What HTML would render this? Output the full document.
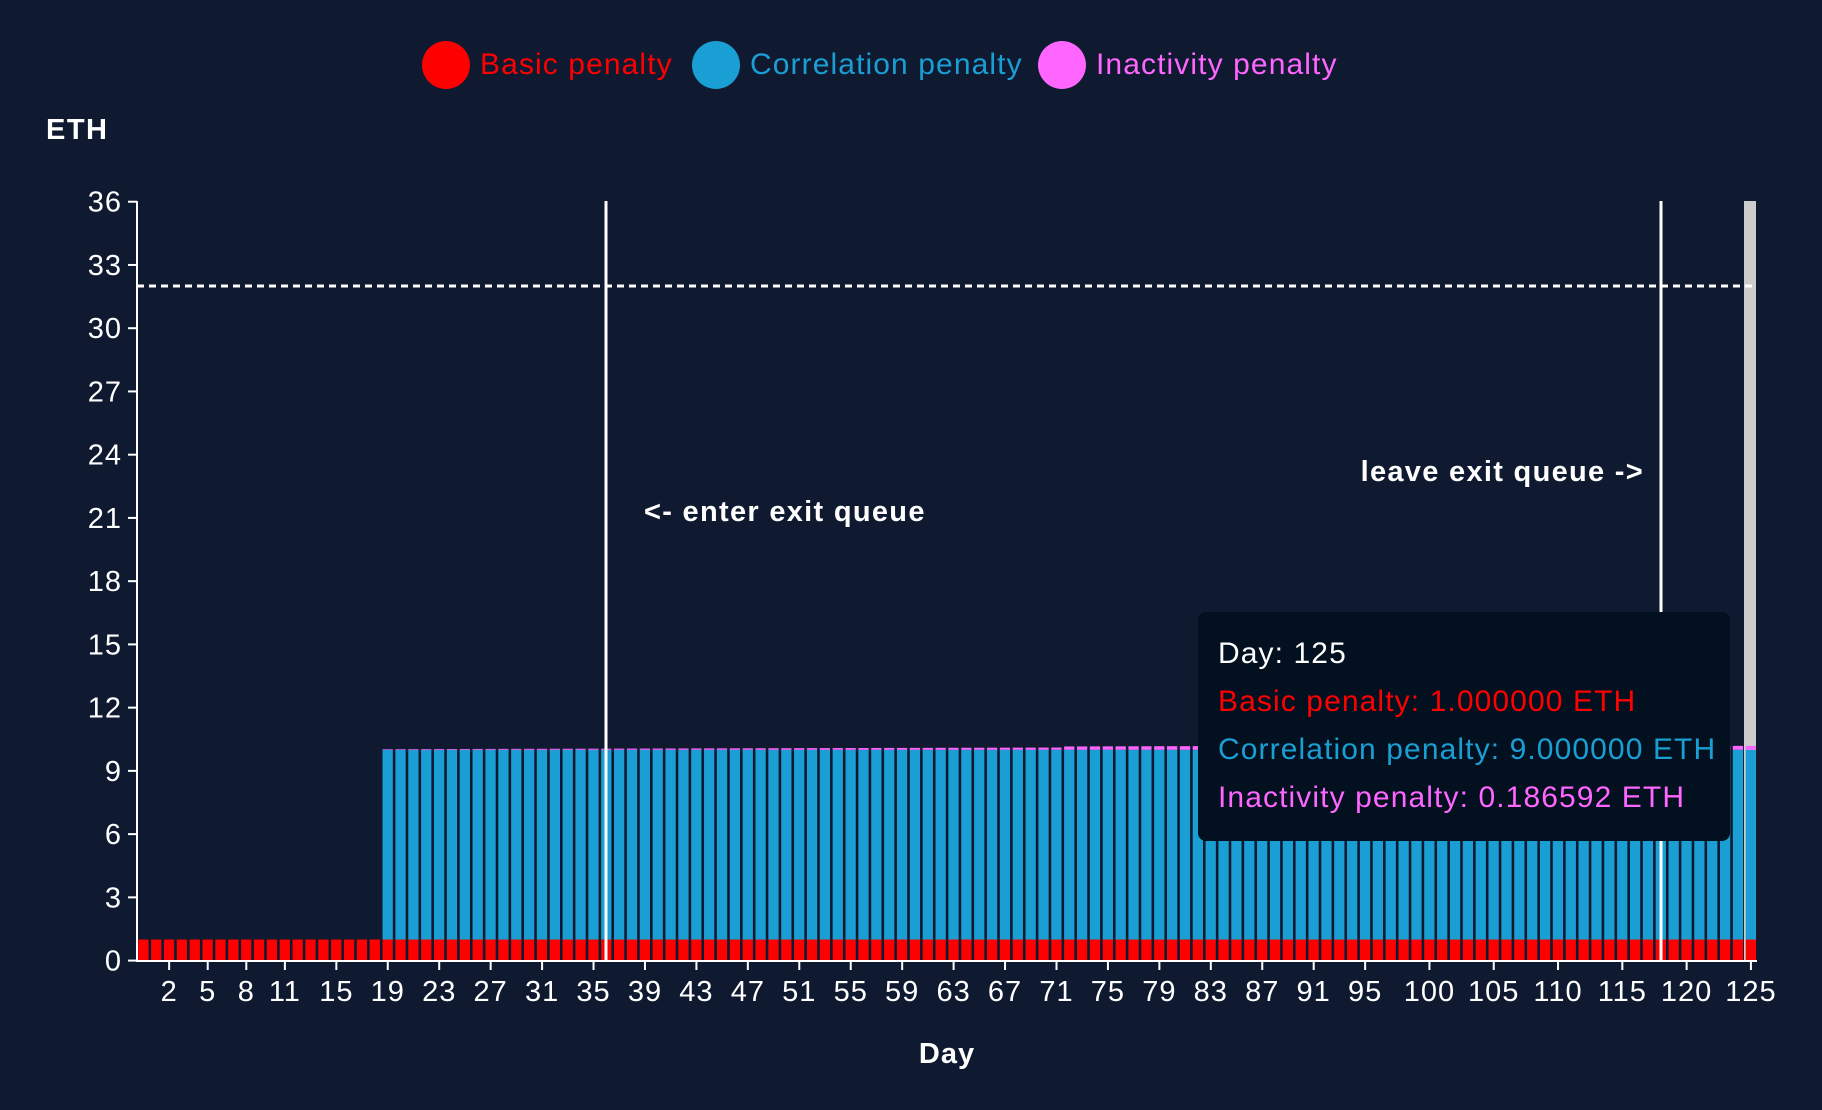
<!DOCTYPE html>
<html><head><meta charset="utf-8"><style>
html,body{margin:0;padding:0;background:#0f1a31;}
svg{display:block;font-family:"Liberation Sans",sans-serif;}
</style></head><body>
<svg id="s" width="1822" height="1110" xmlns="http://www.w3.org/2000/svg">
<rect width="1822" height="1110" fill="#0f1a31"/>
<g id="bars"></g>
<g id="axes"></g>
<line x1="137" y1="286" x2="1752" y2="286" stroke="#fff" stroke-width="3" stroke-dasharray="7,5"/>
<line x1="606" y1="201" x2="606" y2="961" stroke="#fff" stroke-width="3"/>
<line x1="1661" y1="201" x2="1661" y2="961" stroke="#fff" stroke-width="3"/>
<text x="644" y="521" fill="#fff" font-size="29" font-weight="bold" letter-spacing="1.3">&lt;- enter exit queue</text>
<text x="1644" y="481" fill="#fff" font-size="29" font-weight="bold" text-anchor="end" letter-spacing="1.3">leave exit queue -&gt;</text>
<text x="46" y="139" fill="#fff" font-size="29" font-weight="bold" letter-spacing="1.5">ETH</text>
<text x="947" y="1063" fill="#fff" font-size="29" font-weight="bold" text-anchor="middle" letter-spacing="1">Day</text>
<circle cx="446" cy="65" r="24" fill="#ff0000"/>
<text x="480" y="74" fill="#ff0000" font-size="30" letter-spacing="1.1">Basic penalty</text>
<circle cx="716" cy="65" r="24" fill="#1a9fd4"/>
<text x="750" y="74" fill="#1a9fd4" font-size="30" letter-spacing="1.1">Correlation penalty</text>
<circle cx="1062" cy="65" r="24" fill="#ff66ff"/>
<text x="1096" y="74" fill="#ff66ff" font-size="30" letter-spacing="1.1">Inactivity penalty</text>
<rect x="1198" y="612" width="532" height="229" rx="8" fill="#02101f"/>
<text x="1218" y="663" fill="#fff" font-size="30" letter-spacing="1.1">Day: 125</text>
<text x="1218" y="711" fill="#ff0000" font-size="30" letter-spacing="1.1">Basic penalty: 1.000000 ETH</text>
<text x="1218" y="759" fill="#1a9fd4" font-size="30" letter-spacing="1.1">Correlation penalty: 9.000000 ETH</text>
<text x="1218" y="807" fill="#ff66ff" font-size="30" letter-spacing="1.1">Inactivity penalty: 0.186592 ETH</text>
</svg>
<script>
var NS="http://www.w3.org/2000/svg";
function el(p,t,a){var e=document.createElementNS(NS,t);for(var k in a)e.setAttribute(k,a[k]);p.appendChild(e);return e;}
var bars=document.getElementById('bars'),ax=document.getElementById('axes');
var x0=137,bw=12.86,y0=960.6,k=21.08;
el(bars,'rect',{x:1744,y:201,width:12,height:760,fill:'#cccccc'});
for(var d=0;d<126;d++){
  var x=x0+d*bw+1.2,w=bw-2.6;
  el(bars,'rect',{x:x,y:y0-k,width:w,height:k,fill:'#ff0000'});
  if(d>=19){
    el(bars,'rect',{x:x,y:y0-10*k,width:w,height:9*k,fill:'#1a9fd4'});
    var ip=0.03+0.157*(d-19)/106; if(d>=72&&d<=83)ip+=0.05;
    el(bars,'rect',{x:x,y:y0-(10+ip)*k,width:w,height:ip*k,fill:'#ff66ff'});
  }
}
el(ax,'line',{x1:137,y1:201,x2:137,y2:962,stroke:'#fff','stroke-width':2});
el(ax,'line',{x1:136,y1:961,x2:1757,y2:961,stroke:'#fff','stroke-width':2});
for(var v=0;v<=36;v+=3){var y=y0-v*k;
  el(ax,'line',{x1:128,y1:y,x2:137,y2:y,stroke:'#fff','stroke-width':2});
  var t=el(ax,'text',{x:122,y:y+10,fill:'#fff','font-size':29,'text-anchor':'end','letter-spacing':1});t.textContent=v;}
var ticks=[2,5,8,11,15,19,23,27,31,35,39,43,47,51,55,59,63,67,71,75,79,83,87,91,95,100,105,110,115,120,125];
ticks.forEach(function(d){var x=x0+(d+0.5)*bw;
  el(ax,'line',{x1:x,y1:961,x2:x,y2:970,stroke:'#fff','stroke-width':2});
  var t=el(ax,'text',{x:x,y:1001,fill:'#fff','font-size':29,'text-anchor':'middle','letter-spacing':1});t.textContent=d;});
</script>
</body></html>
